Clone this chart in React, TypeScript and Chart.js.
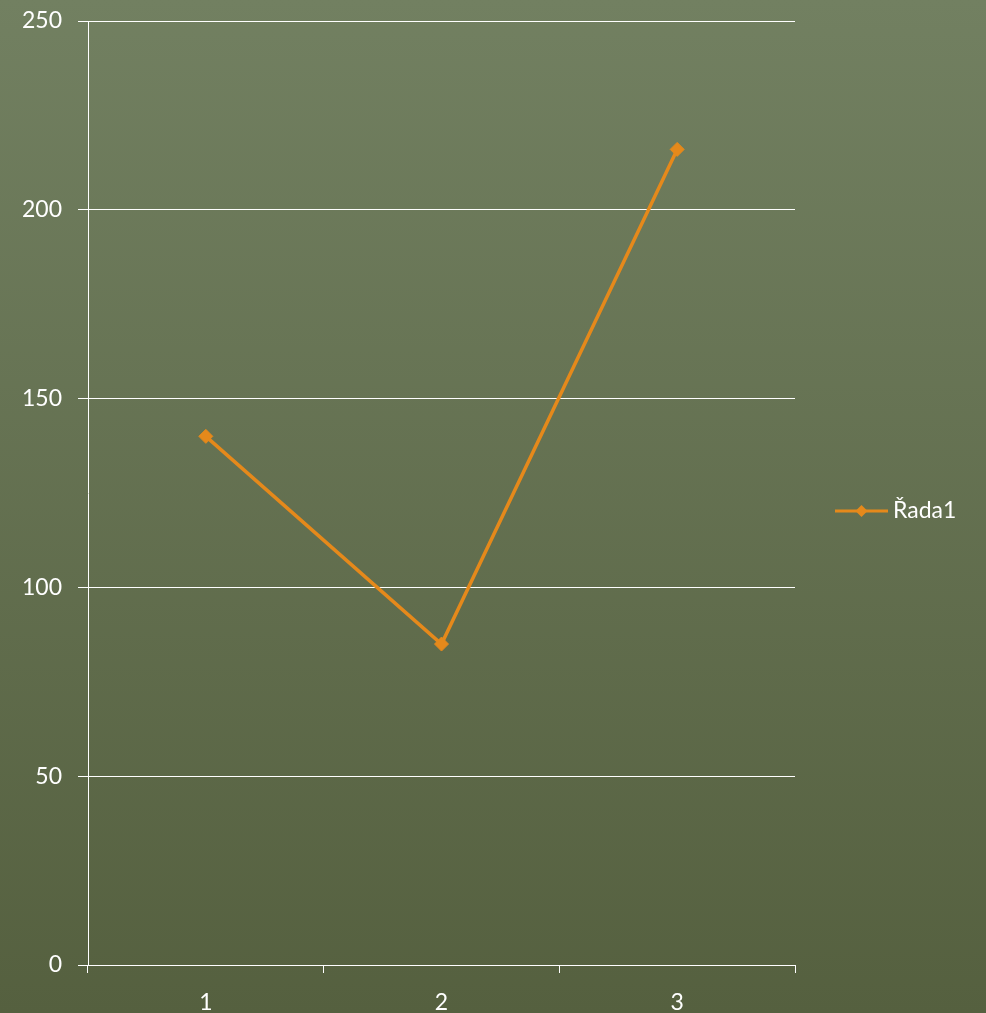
import React, { useEffect, useRef } from "react";
import { Chart, registerables } from "chart.js";

Chart.register(...registerables);

const categories = ["1", "2", "3"];
const seriesName = "Řada1";
const seriesValues = [140, 85, 216];
const yMin = 0;
const yMax = 250;
const yStep = 50;

const FONT = "Lato, 'Open Sans', sans-serif";
const FONT_SIZE = 23;
const ORANGE = "#E5891B";

const backgroundPlugin = {
  id: "bgGradient",
  beforeDraw(chart: any) {
    const { ctx, width, height } = chart;
    const g = ctx.createLinearGradient(0, 0, 0, height);
    g.addColorStop(0, "#728061");
    g.addColorStop(1, "#55603f");
    ctx.save();
    ctx.fillStyle = g;
    ctx.fillRect(0, 0, width, height);
    ctx.restore();
  },
};

const legendPlugin = {
  id: "customLegend",
  afterDraw(chart: any) {
    const { ctx, chartArea } = chart;
    const ds = chart.data.datasets[0];
    const y = (chartArea.top + chartArea.bottom) / 2 + 18;
    const x0 = 835;
    const x1 = 888;
    ctx.save();
    ctx.strokeStyle = ORANGE;
    ctx.lineWidth = 3;
    ctx.beginPath();
    ctx.moveTo(x0, y);
    ctx.lineTo(x1, y);
    ctx.stroke();
    const cx = (x0 + x1) / 2;
    const r = 6;
    ctx.fillStyle = ORANGE;
    ctx.beginPath();
    ctx.moveTo(cx, y - r);
    ctx.lineTo(cx + r, y);
    ctx.lineTo(cx, y + r);
    ctx.lineTo(cx - r, y);
    ctx.closePath();
    ctx.fill();
    ctx.fillStyle = "#ffffff";
    ctx.font = `${FONT_SIZE}px ${FONT}`;
    ctx.textBaseline = "middle";
    ctx.textAlign = "left";
    ctx.fillText(ds.label, x1 + 5, y);
    ctx.restore();
  },
};

export default function App() {
  const ref = useRef<HTMLCanvasElement | null>(null);
  useEffect(() => {
    if (!ref.current) return;
    const chart = new Chart(ref.current, {
      type: "line",
      data: {
        labels: categories,
        datasets: [
          {
            label: seriesName,
            data: seriesValues,
            borderColor: ORANGE,
            backgroundColor: ORANGE,
            borderWidth: 3.5,
            pointStyle: "rectRot",
            pointRadius: 7,
            pointBorderWidth: 1,
            pointBackgroundColor: ORANGE,
            pointBorderColor: ORANGE,
            tension: 0,
          },
        ],
      },
      options: {
        animation: false,
        responsive: true,
        maintainAspectRatio: false,
        layout: { padding: { top: 21, right: 191, left: 0, bottom: 0 } },
        plugins: {
          legend: { display: false },
          tooltip: { enabled: false },
        },
        scales: {
          x: {
            type: "category",
            offset: true,
            grid: {
              offset: true,
              drawOnChartArea: false,
              drawTicks: true,
              tickLength: 8,
              color: "#ffffff",
              lineWidth: 1,
            },
            border: { display: true, color: "#ffffff", width: 1 },
            ticks: {
              color: "#ffffff",
              font: { family: FONT, size: FONT_SIZE },
              padding: 16,
              maxRotation: 0,
            },
            afterFit(scale: any) {
              scale.height = 48;
              scale.paddingLeft = 0;
              scale.paddingRight = 0;
            },
          },
          y: {
            min: yMin,
            max: yMax,
            grid: {
              color: "#ffffff",
              lineWidth: 1,
              tickLength: 10,
              drawTicks: true,
            },
            border: { display: true, color: "#ffffff", width: 1 },
            ticks: {
              stepSize: yStep,
              color: "#ffffff",
              font: { family: FONT, size: FONT_SIZE },
              padding: 16,
            },
            afterFit(scale: any) {
              scale.width = 88;
              scale.paddingTop = 0;
              scale.paddingBottom = 0;
            },
          },
        },
      },
      plugins: [backgroundPlugin, legendPlugin],
    });
    return () => chart.destroy();
  }, []);
  return (
    <div
      style={{
        position: "absolute",
        left: 0,
        top: 0,
        width: 986,
        height: 1013,
      }}
    >
      <canvas ref={ref} />
    </div>
  );
}
